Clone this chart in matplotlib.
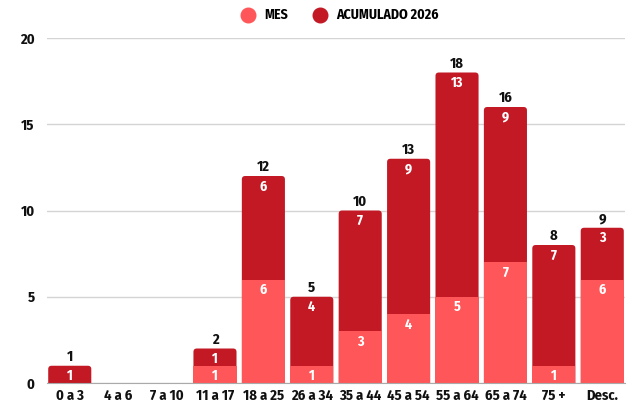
import matplotlib.pyplot as plt
from matplotlib.patches import FancyBboxPatch

# ---- DATA ----
categorias = ["0 a 3", "4 a 6", "7 a 10", "11 a 17", "18 a 25", "26 a 34",
              "35 a 44", "45 a 54", "55 a 64", "65 a 74", "75 +", "Desc."]
mes = [0, 0, 0, 1, 6, 1, 3, 4, 5, 7, 1, 6]
acumulado = [1, 0, 0, 1, 6, 4, 7, 9, 13, 9, 7, 3]

plt.rcParams["font.family"] = ["Fira Sans Condensed", "DejaVu Sans"]

c_mes = "#FF5759"
c_acu = "#C21925"

fig = plt.figure(figsize=(6.3, 4.03), dpi=100)
ax = fig.add_axes([47 / 630, 20 / 403, 578 / 630, 345 / 403])

x = list(range(len(categorias)))
totales = [m + a for m, a in zip(mes, acumulado)]
ancho = 0.89

# dark bar over the whole height (rounded top), light bar drawn over its lower part
barras = ax.bar(x, totales, width=ancho, color=c_acu, zorder=3)
for r, tot in zip(barras, totales):
    r.set_visible(False)
    if tot == 0:
        continue
    p = FancyBboxPatch((r.get_x(), -1), r.get_width(), tot + 1,
                       boxstyle="round,pad=0,rounding_size=0.07",
                       mutation_aspect=2.8, facecolor=c_acu, edgecolor="none", zorder=3)
    ax.add_patch(p)
ax.bar(x, mes, width=ancho, color=c_mes, zorder=3.5)

for i in x:
    m, a, tot = mes[i], acumulado[i], totales[i]
    if m > 0:
        ax.text(i, m - 0.2, str(m), ha="center", va="top", color="white",
                fontsize=10, fontweight="bold", zorder=4)
    if a > 0:
        ax.text(i, tot - 0.2, str(a), ha="center", va="top", color="white",
                fontsize=10, fontweight="bold", zorder=4)
    if tot > 0:
        ax.text(i, tot + 0.1, str(tot), ha="center", va="bottom", color="#111111",
                fontsize=10.5, fontweight="bold", zorder=4)

ax.set_xlim(-0.47, len(categorias) - 0.53)
ax.set_ylim(0, 20)
ax.set_yticks([0, 5, 10, 15, 20])
ax.set_xticks(x)
ax.set_xticklabels(categorias, fontweight="bold")
for t in ax.get_yticklabels():
    t.set_fontweight("bold")
ax.tick_params(axis="both", length=0, labelsize=10.5, colors="#111111")
ax.tick_params(axis="y", pad=9)
ax.tick_params(axis="x", pad=4)
ax.grid(axis="y", color="#d4d4d4", linewidth=1, zorder=0)
for s in ["top", "right", "left"]:
    ax.spines[s].set_visible(False)
ax.spines["bottom"].set_color("#aaaaaa")
ax.spines["bottom"].set_zorder(5)

h1 = plt.Line2D([], [], marker="o", linestyle="", color=c_mes, markersize=10.5)
h2 = plt.Line2D([], [], marker="o", linestyle="", color=c_acu, markersize=10.5)
fig.legend([h1, h2], ["MES", "ACUMULADO 2026"], loc="center", bbox_to_anchor=(0.534, 0.962),
           ncol=2, frameon=False, prop={"size": 10, "weight": "bold"},
           handletextpad=0.2, columnspacing=1.3)

plt.savefig("out.png", dpi=100)
